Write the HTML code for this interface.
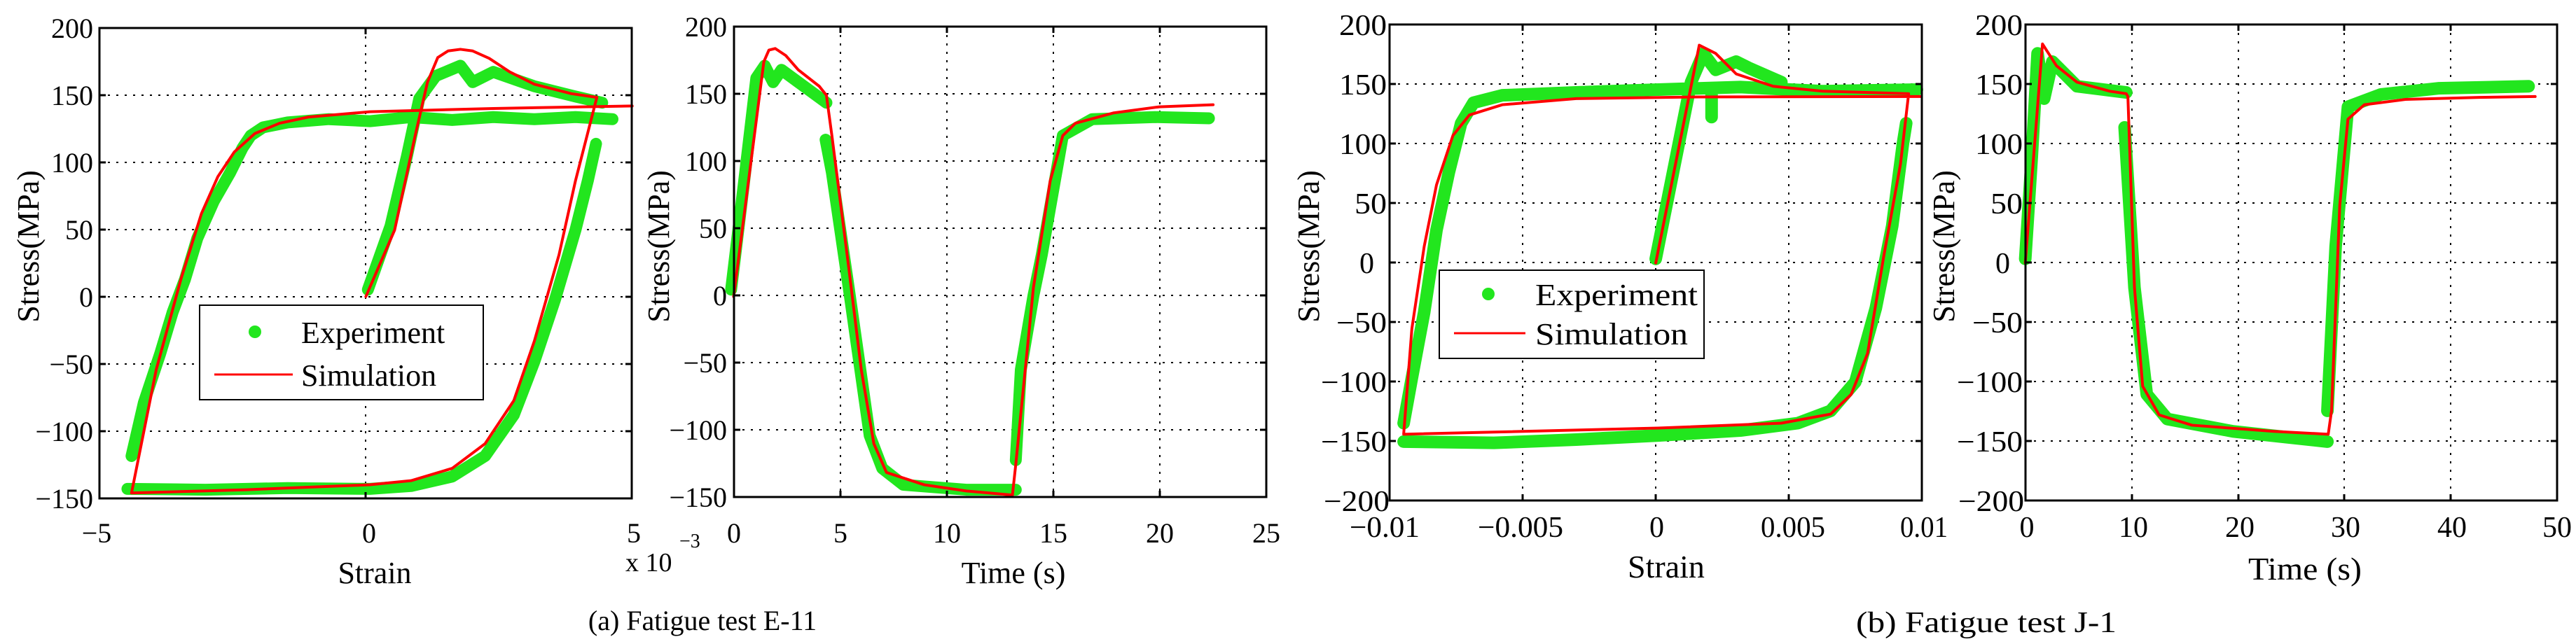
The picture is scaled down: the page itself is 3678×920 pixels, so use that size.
<!DOCTYPE html>
<html><head><meta charset="utf-8"><style>
html,body{margin:0;padding:0;background:#fff;}
svg{display:block;}
svg text{font-family:"Liberation Serif","DejaVu Serif",serif !important;fill:#000;}
</style></head><body>
<svg width="3678" height="920" viewBox="0 0 3678 920" xmlns="http://www.w3.org/2000/svg" font-family="'Liberation Serif', 'DejaVu Serif', serif">
<rect width="3678" height="920" fill="#fff"/>

<!-- ============ PANEL 1 ============ -->
<g stroke="#000" stroke-width="2" stroke-dasharray="3,9" fill="none">
  <line x1="522" y1="40" x2="522" y2="712"/>
  <line x1="142" y1="136" x2="902" y2="136"/>
  <line x1="142" y1="232" x2="902" y2="232"/>
  <line x1="142" y1="328" x2="902" y2="328"/>
  <line x1="142" y1="424" x2="902" y2="424"/>
  <line x1="142" y1="520" x2="902" y2="520"/>
  <line x1="142" y1="616" x2="902" y2="616"/>
</g>
<g transform="scale(0.5869)" fill="none" stroke-linejoin="round" stroke-linecap="round">
  <path vector-effect="non-scaling-stroke" stroke="#22e61e" stroke-width="17" d="M1490,290 L1400,285 L1300,290 L1200,285 L1100,292 L1000,285 L900,295 L800,290 L700,298 L640,310 L610,330 L590,360 L560,420 L520,490 L480,580 L450,680 L420,760 L390,860 L350,980 L320,1110 M310,1190 L500,1192 L700,1188 L900,1190 L1000,1183 L1100,1160 L1180,1110 L1250,1010 L1300,880 L1350,730 L1400,560 L1430,440 L1450,350 M895,705 L950,550 L990,380 L1020,240 L1060,185 L1120,160 L1150,200 L1200,175 L1300,210 L1400,235 L1465,250"/>
  <path vector-effect="non-scaling-stroke" stroke="#ff0000" stroke-width="4" d="M1538,258 L1200,264 L900,272 L750,285 L680,300 L620,325 L570,370 L530,430 L490,520 L440,680 L380,900 L320,1200 L600,1192 L900,1180 L1000,1170 L1100,1140 L1180,1080 L1250,975 L1300,830 L1360,620 L1400,440 L1452,237 L1390,228 L1300,205 L1240,175 L1190,142 L1150,124 L1120,120 L1090,124 L1065,140 L1040,200 L1010,330 L960,560 L890,722"/>
</g>
<rect x="142" y="40" width="760" height="672" fill="none" stroke="#000" stroke-width="3"/>
<g stroke="#000" stroke-width="3">
  <line x1="522" y1="712" x2="522" y2="703"/><line x1="522" y1="40" x2="522" y2="49"/>
  <line x1="142" y1="136" x2="151" y2="136"/><line x1="902" y1="136" x2="893" y2="136"/>
  <line x1="142" y1="232" x2="151" y2="232"/><line x1="902" y1="232" x2="893" y2="232"/>
  <line x1="142" y1="328" x2="151" y2="328"/><line x1="902" y1="328" x2="893" y2="328"/>
  <line x1="142" y1="424" x2="151" y2="424"/><line x1="902" y1="424" x2="893" y2="424"/>
  <line x1="142" y1="520" x2="151" y2="520"/><line x1="902" y1="520" x2="893" y2="520"/>
  <line x1="142" y1="616" x2="151" y2="616"/><line x1="902" y1="616" x2="893" y2="616"/>
</g>
<g font-size="40" text-anchor="end">
  <text x="133" y="54">200</text><text x="133" y="150">150</text><text x="133" y="246">100</text>
  <text x="133" y="342">50</text><text x="133" y="438">0</text><text x="133" y="534">−50</text>
  <text x="133" y="630">−100</text><text x="133" y="726">−150</text>
</g>
<g font-size="40" text-anchor="middle">
  <text x="138" y="775">−5</text><text x="527" y="775">0</text><text x="905" y="775">5</text>
</g>
<text x="893" y="816" font-size="38">x 10</text>
<text x="970" y="782" font-size="28">−3</text>
<text x="535" y="833" font-size="44" text-anchor="middle">Strain</text>
<text transform="translate(55,352) rotate(-90)" font-size="44" text-anchor="middle">Stress(MPa)</text>
<rect x="285" y="436" width="405" height="135" fill="#fff" stroke="#000" stroke-width="2"/>
<circle cx="364" cy="474" r="9" fill="#22e61e"/>
<line x1="306" y1="535" x2="418" y2="535" stroke="#ff0000" stroke-width="3"/>
<text x="430" y="490" font-size="44">Experiment</text>
<text x="430" y="551" font-size="44">Simulation</text>

<!-- ============ PANEL 2 ============ -->
<g stroke="#000" stroke-width="2" stroke-dasharray="3,9" fill="none">
  <line x1="1200" y1="38" x2="1200" y2="710"/><line x1="1352" y1="38" x2="1352" y2="710"/>
  <line x1="1504" y1="38" x2="1504" y2="710"/><line x1="1656" y1="38" x2="1656" y2="710"/>
  <line x1="1048" y1="134" x2="1808" y2="134"/><line x1="1048" y1="230" x2="1808" y2="230"/>
  <line x1="1048" y1="326" x2="1808" y2="326"/><line x1="1048" y1="422" x2="1808" y2="422"/>
  <line x1="1048" y1="518" x2="1808" y2="518"/><line x1="1048" y1="614" x2="1808" y2="614"/>
</g>
<g transform="translate(900,0) scale(0.5995,0.5869)" fill="none" stroke-linejoin="round" stroke-linecap="round">
  <path vector-effect="non-scaling-stroke" stroke="#22e61e" stroke-width="17" d="M240,705 L270,450 L300,190 L320,160 L340,200 L360,170 L400,200 L467,250 M465,340 L480,420 L500,560 L520,700 L545,880 L570,1060 L600,1140 L650,1180 L800,1192 L918,1192 M918,1120 L930,900 L960,720 L980,620 L1030,330 L1100,290 L1250,285 L1378,288"/>
  <path vector-effect="non-scaling-stroke" stroke="#ff0000" stroke-width="4" d="M246,722 L318,150 L330,122 L345,118 L370,135 L400,170 L450,210 L467,232 L480,330 L520,650 L550,900 L580,1080 L610,1150 L700,1180 L800,1195 L910,1205 L918,1130 L960,700 L1000,440 L1030,330 L1060,300 L1150,275 L1260,260 L1388,255"/>
</g>
<rect x="1048" y="38" width="760" height="672" fill="none" stroke="#000" stroke-width="3"/>
<g stroke="#000" stroke-width="3">
  <line x1="1200" y1="710" x2="1200" y2="701"/><line x1="1352" y1="710" x2="1352" y2="701"/>
  <line x1="1504" y1="710" x2="1504" y2="701"/><line x1="1656" y1="710" x2="1656" y2="701"/>
  <line x1="1200" y1="38" x2="1200" y2="47"/><line x1="1352" y1="38" x2="1352" y2="47"/>
  <line x1="1504" y1="38" x2="1504" y2="47"/><line x1="1656" y1="38" x2="1656" y2="47"/>
  <line x1="1048" y1="134" x2="1057" y2="134"/><line x1="1808" y1="134" x2="1799" y2="134"/>
  <line x1="1048" y1="230" x2="1057" y2="230"/><line x1="1808" y1="230" x2="1799" y2="230"/>
  <line x1="1048" y1="326" x2="1057" y2="326"/><line x1="1808" y1="326" x2="1799" y2="326"/>
  <line x1="1048" y1="422" x2="1057" y2="422"/><line x1="1808" y1="422" x2="1799" y2="422"/>
  <line x1="1048" y1="518" x2="1057" y2="518"/><line x1="1808" y1="518" x2="1799" y2="518"/>
  <line x1="1048" y1="614" x2="1057" y2="614"/><line x1="1808" y1="614" x2="1799" y2="614"/>
</g>
<g font-size="40" text-anchor="end">
  <text x="1038" y="52">200</text><text x="1038" y="148">150</text><text x="1038" y="244">100</text>
  <text x="1038" y="340">50</text><text x="1038" y="436">0</text><text x="1038" y="532">−50</text>
  <text x="1038" y="628">−100</text><text x="1038" y="724">−150</text>
</g>
<g font-size="40" text-anchor="middle">
  <text x="1048" y="775">0</text><text x="1200" y="775">5</text><text x="1352" y="775">10</text>
  <text x="1504" y="775">15</text><text x="1656" y="775">20</text><text x="1808" y="775">25</text>
</g>
<text x="1447" y="833" font-size="44" text-anchor="middle">Time (s)</text>
<text transform="translate(955,352) rotate(-90)" font-size="44" text-anchor="middle">Stress(MPa)</text>

<text x="1003" y="900" font-size="40" text-anchor="middle">(a) Fatigue test E-11</text>

<!-- ============ PANEL 3 ============ -->
<g stroke="#000" stroke-width="2" stroke-dasharray="3,9" fill="none">
  <line x1="2174" y1="35" x2="2174" y2="715"/><line x1="2364" y1="35" x2="2364" y2="715"/><line x1="2554" y1="35" x2="2554" y2="715"/>
  <line x1="1984" y1="120" x2="2744" y2="120"/><line x1="1984" y1="205" x2="2744" y2="205"/>
  <line x1="1984" y1="290" x2="2744" y2="290"/><line x1="1984" y1="375" x2="2744" y2="375"/>
  <line x1="1984" y1="460" x2="2744" y2="460"/><line x1="1984" y1="545" x2="2744" y2="545"/>
  <line x1="1984" y1="630" x2="2744" y2="630"/>
</g>
<g transform="translate(1840,0) scale(1.1724,0.5869)" fill="none" stroke-linejoin="round" stroke-linecap="round">
  <path vector-effect="non-scaling-stroke" stroke="#22e61e" stroke-width="18" d="M765,218 L650,222 L550,212 L450,218 L350,225 L260,232 L225,250 L210,300 L195,420 L180,560 L165,760 L150,920 L140,1030 M140,1075 L250,1078 L350,1070 L450,1060 L550,1048 L620,1030 L660,1000 L690,930 L715,750 L735,550 L748,350 L752,300 M447,630 L470,400 L490,200 L505,130 L520,170 L545,150 L560,165 L600,200 M515,220 L515,285"/>
  <path vector-effect="non-scaling-stroke" stroke="#ff0000" stroke-width="4" d="M447,640 L500,110 L520,130 L545,180 L590,210 L650,222 L755,228 L745,400 L725,620 L705,860 L685,960 L660,1008 L600,1030 L450,1042 L140,1057 L150,800 L165,600 L180,450 L200,330 L220,280 L260,255 L350,240 L500,236 L770,235"/>
</g>
<rect x="1984" y="35" width="760" height="680" fill="none" stroke="#000" stroke-width="3"/>
<g stroke="#000" stroke-width="3">
  <line x1="2174" y1="715" x2="2174" y2="706"/><line x1="2364" y1="715" x2="2364" y2="706"/><line x1="2554" y1="715" x2="2554" y2="706"/>
  <line x1="2174" y1="35" x2="2174" y2="44"/><line x1="2364" y1="35" x2="2364" y2="44"/><line x1="2554" y1="35" x2="2554" y2="44"/>
  <line x1="1984" y1="120" x2="1993" y2="120"/><line x1="2744" y1="120" x2="2735" y2="120"/>
  <line x1="1984" y1="205" x2="1993" y2="205"/><line x1="2744" y1="205" x2="2735" y2="205"/>
  <line x1="1984" y1="290" x2="1993" y2="290"/><line x1="2744" y1="290" x2="2735" y2="290"/>
  <line x1="1984" y1="375" x2="1993" y2="375"/><line x1="2744" y1="375" x2="2735" y2="375"/>
  <line x1="1984" y1="460" x2="1993" y2="460"/><line x1="2744" y1="460" x2="2735" y2="460"/>
  <line x1="1984" y1="545" x2="1993" y2="545"/><line x1="2744" y1="545" x2="2735" y2="545"/>
  <line x1="1984" y1="630" x2="1993" y2="630"/><line x1="2744" y1="630" x2="2735" y2="630"/>
</g>
<g font-size="42" text-anchor="end">
  <text x="1980" y="50" textLength="68" lengthAdjust="spacingAndGlyphs">200</text>
  <text x="1980" y="135" textLength="68" lengthAdjust="spacingAndGlyphs">150</text>
  <text x="1980" y="220" textLength="68" lengthAdjust="spacingAndGlyphs">100</text>
  <text x="1980" y="305" textLength="46" lengthAdjust="spacingAndGlyphs">50</text>
  <text x="1962" y="390">0</text>
  <text x="1980" y="475" textLength="72" lengthAdjust="spacingAndGlyphs">−50</text>
  <text x="1980" y="560" textLength="94" lengthAdjust="spacingAndGlyphs">−100</text>
  <text x="1980" y="645" textLength="94" lengthAdjust="spacingAndGlyphs">−150</text>
  <text x="1984" y="730" textLength="94" lengthAdjust="spacingAndGlyphs">−200</text>
</g>
<g font-size="42">
  <text x="1927" y="767" textLength="100" lengthAdjust="spacingAndGlyphs">−0.01</text>
  <text x="2110" y="767" textLength="122" lengthAdjust="spacingAndGlyphs">−0.005</text>
  <text x="2355" y="767">0</text>
  <text x="2514" y="767" textLength="92" lengthAdjust="spacingAndGlyphs">0.005</text>
  <text x="2713" y="767" textLength="68" lengthAdjust="spacingAndGlyphs">0.01</text>
</g>
<text x="2379" y="825" font-size="46" text-anchor="middle">Strain</text>
<text transform="translate(1883,352) rotate(-90)" font-size="44" text-anchor="middle">Stress(MPa)</text>
<rect x="2055" y="386" width="378" height="126" fill="#fff" stroke="#000" stroke-width="2"/>
<circle cx="2125" cy="420" r="9" fill="#22e61e"/>
<line x1="2076" y1="476" x2="2178" y2="476" stroke="#ff0000" stroke-width="3"/>
<text x="2192" y="436" font-size="44" textLength="232" lengthAdjust="spacingAndGlyphs">Experiment</text>
<text x="2192" y="492" font-size="44" textLength="218" lengthAdjust="spacingAndGlyphs">Simulation</text>

<!-- ============ PANEL 4 ============ -->
<g stroke="#000" stroke-width="2" stroke-dasharray="3,9" fill="none">
  <line x1="3044" y1="35" x2="3044" y2="715"/><line x1="3196" y1="35" x2="3196" y2="715"/>
  <line x1="3347" y1="35" x2="3347" y2="715"/><line x1="3499" y1="35" x2="3499" y2="715"/>
  <line x1="2892" y1="120" x2="3651" y2="120"/><line x1="2892" y1="205" x2="3651" y2="205"/>
  <line x1="2892" y1="290" x2="3651" y2="290"/><line x1="2892" y1="375" x2="3651" y2="375"/>
  <line x1="2892" y1="460" x2="3651" y2="460"/><line x1="2892" y1="545" x2="3651" y2="545"/>
  <line x1="2892" y1="630" x2="3651" y2="630"/>
</g>
<g transform="translate(1840,0) scale(1.1724,0.5869)" fill="none" stroke-linejoin="round" stroke-linecap="round">
  <path vector-effect="non-scaling-stroke" stroke="#22e61e" stroke-width="18" d="M897,630 L905,380 L912,130 L920,240 L930,150 L960,210 L1020,225 M1018,310 L1030,700 L1045,960 L1070,1020 L1150,1050 L1265,1075 M1265,1000 L1275,600 L1290,260 L1330,230 L1400,215 L1510,210"/>
  <path vector-effect="non-scaling-stroke" stroke="#ff0000" stroke-width="4" d="M897,640 L918,107 L935,160 L960,200 L1000,222 L1020,228 L1022,235 L1030,700 L1040,940 L1060,1010 L1100,1035 L1200,1050 L1266,1057 L1270,1000 L1280,500 L1290,290 L1310,255 L1360,242 L1450,237 L1518,235"/>
</g>
<rect x="2892" y="35" width="759" height="680" fill="none" stroke="#000" stroke-width="3"/>
<g stroke="#000" stroke-width="3">
  <line x1="3044" y1="715" x2="3044" y2="706"/><line x1="3196" y1="715" x2="3196" y2="706"/>
  <line x1="3347" y1="715" x2="3347" y2="706"/><line x1="3499" y1="715" x2="3499" y2="706"/>
  <line x1="3044" y1="35" x2="3044" y2="44"/><line x1="3196" y1="35" x2="3196" y2="44"/>
  <line x1="3347" y1="35" x2="3347" y2="44"/><line x1="3499" y1="35" x2="3499" y2="44"/>
  <line x1="2892" y1="120" x2="2901" y2="120"/><line x1="3651" y1="120" x2="3642" y2="120"/>
  <line x1="2892" y1="205" x2="2901" y2="205"/><line x1="3651" y1="205" x2="3642" y2="205"/>
  <line x1="2892" y1="290" x2="2901" y2="290"/><line x1="3651" y1="290" x2="3642" y2="290"/>
  <line x1="2892" y1="375" x2="2901" y2="375"/><line x1="3651" y1="375" x2="3642" y2="375"/>
  <line x1="2892" y1="460" x2="2901" y2="460"/><line x1="3651" y1="460" x2="3642" y2="460"/>
  <line x1="2892" y1="545" x2="2901" y2="545"/><line x1="3651" y1="545" x2="3642" y2="545"/>
  <line x1="2892" y1="630" x2="2901" y2="630"/><line x1="3651" y1="630" x2="3642" y2="630"/>
</g>
<g font-size="42" text-anchor="end">
  <text x="2888" y="50" textLength="68" lengthAdjust="spacingAndGlyphs">200</text>
  <text x="2888" y="135" textLength="68" lengthAdjust="spacingAndGlyphs">150</text>
  <text x="2888" y="220" textLength="68" lengthAdjust="spacingAndGlyphs">100</text>
  <text x="2888" y="305" textLength="46" lengthAdjust="spacingAndGlyphs">50</text>
  <text x="2870" y="390">0</text>
  <text x="2888" y="475" textLength="72" lengthAdjust="spacingAndGlyphs">−50</text>
  <text x="2888" y="560" textLength="94" lengthAdjust="spacingAndGlyphs">−100</text>
  <text x="2888" y="645" textLength="94" lengthAdjust="spacingAndGlyphs">−150</text>
  <text x="2890" y="730" textLength="94" lengthAdjust="spacingAndGlyphs">−200</text>
</g>
<g font-size="42" text-anchor="middle">
  <text x="2894" y="767">0</text><text x="3046" y="767" textLength="42" lengthAdjust="spacingAndGlyphs">10</text>
  <text x="3198" y="767" textLength="42" lengthAdjust="spacingAndGlyphs">20</text>
  <text x="3349" y="767" textLength="42" lengthAdjust="spacingAndGlyphs">30</text>
  <text x="3501" y="767" textLength="42" lengthAdjust="spacingAndGlyphs">40</text>
  <text x="3651" y="767" textLength="42" lengthAdjust="spacingAndGlyphs">50</text>
</g>
<text x="3291" y="828" font-size="46" text-anchor="middle" textLength="162" lengthAdjust="spacingAndGlyphs">Time (s)</text>
<text transform="translate(2790,352) rotate(-90)" font-size="44" text-anchor="middle">Stress(MPa)</text>

<text x="2836" y="903" font-size="42" text-anchor="middle" textLength="372" lengthAdjust="spacingAndGlyphs">(b) Fatigue test J-1</text>
</svg>
</body></html>
